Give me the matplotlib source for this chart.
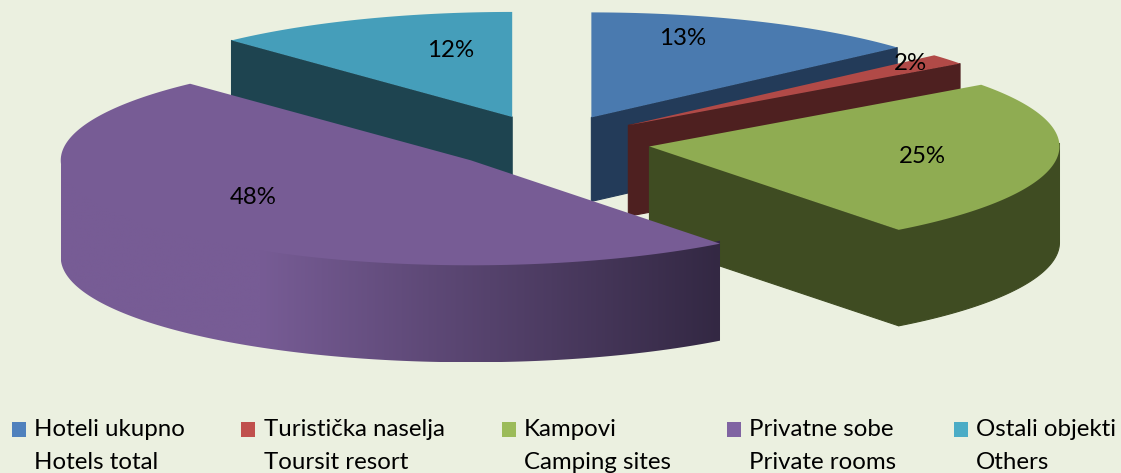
import numpy as np
import matplotlib
matplotlib.use("Agg")
import matplotlib.pyplot as plt
from matplotlib.colors import to_rgb
from matplotlib.patches import Rectangle, Polygon

# Data
shares = [13.4, 1.6, 24.6, 48.4, 12.0]
names_local = ["Hoteli ukupno", "Turistička naselja", "Kampovi", "Privatne sobe", "Ostali objekti"]
names_english = ["Hotels total", "Toursit resort", "Camping sites", "Private rooms", "Others"]

# Style
top_colors = ["#4A7AAF", "#B14A47", "#8FAC52", "#775C95", "#459EBA"]
side_colors = ["#233B59", "#4E2020", "#3F4C22", "#775C95", "#1E4450"]
legend_colors = ["#4F81BD", "#C0504D", "#9BBB59", "#8064A2", "#4BACC6"]
depths = [84, 91, 96, 97, 84]
apex_shift = [0, 0, 0, -3.5, -1.5]
label_pos = [(683, 38.5), (910, 63.5), (922, 156.5), (253, 197.5), (451, 50.5)]
legend_sq_x = [12, 241, 502, 727, 954]
legend_tx_x = [34, 264, 524, 749, 976]
BG = "#EBF0E0"
CX, CY, A, B, EX, EY = 550.5, 142.5, 410, 105, 100, 27.5
FONT = 17.3

plt.rcParams["font.family"] = ["Lato", "DejaVu Sans"]
fig = plt.figure(figsize=(11.21, 4.73), dpi=100, facecolor=BG)
ax = fig.add_axes([0, 0, 1, 1])
ax.set_xlim(0, 1121)
ax.set_ylim(473, 0)
ax.axis("off")

total = sum(shares)
edges = np.concatenate([[0], np.cumsum(shares)]) / total * 2 * np.pi
order = {4: 1, 0: 2, 1: 3, 2: 4, 3: 5}
# which radial edge shows its wall towards the viewer
wall_edge = {0: 1, 1: 1, 2: 1, 4: 0}


def rim(apex, t):
    return apex[0] + A * np.sin(t), apex[1] - B * np.cos(t)


for i in range(len(shares)):
    t0, t1 = edges[i], edges[i + 1]
    mid = (t0 + t1) / 2
    apex = (CX + EX * np.sin(mid) + apex_shift[i], CY - EY * np.cos(mid))
    d = depths[i]
    z = order[i]
    if i in wall_edge:
        x, y = rim(apex, edges[i + wall_edge[i]])
        ax.fill([apex[0], x, x, apex[0]], [apex[1], y, y + d, apex[1] + d],
                color=side_colors[i], lw=0.8, zorder=z)
    lo, hi = max(t0, np.pi / 2), min(t1, 3 * np.pi / 2)
    if hi > lo:
        ts = np.linspace(lo, hi, 200)
        xs, ys = rim(apex, ts)
        px = np.r_[xs, xs[::-1]]
        py = np.r_[ys - 3, ys[::-1] + d]
        if i == 3:
            poly = Polygon(np.c_[px, py], closed=True, fc="none", ec="none", zorder=z)
            ax.add_patch(poly)
            cols = np.linspace(px.min(), px.max(), 500)
            f = np.clip((cols - 260) / (719 - 260), 0, 1)[None, :, None]
            c0, c1 = np.array(to_rgb("#775C95")), np.array(to_rgb("#332843"))
            grad = c0[None, None, :] + (c1 - c0)[None, None, :] * f
            im = ax.imshow(grad, extent=(px.min(), px.max(), py.max(), py.min()),
                           aspect="auto", zorder=z, interpolation="bilinear")
            im.set_clip_path(poly)
        else:
            ax.fill(px, py, color=side_colors[i], lw=0.8, zorder=z)
    ts = np.linspace(t0, t1, 200)
    xs, ys = rim(apex, ts)
    ax.fill(np.r_[apex[0], xs], np.r_[apex[1], ys], color=top_colors[i], lw=0, zorder=z + 0.5)

ax.set_xlim(0, 1121)
ax.set_ylim(473, 0)

for v, (x, y) in zip(shares, label_pos):
    ax.text(x, y, f"{round(v)}%", ha="center", va="center", fontsize=FONT, color="black", zorder=10)

for i in range(len(shares)):
    ax.add_patch(Rectangle((legend_sq_x[i], 422), 14, 15, color=legend_colors[i], lw=0))
    ax.text(legend_tx_x[i], 429, names_local[i], ha="left", va="center", fontsize=FONT, color="black")
    ax.text(legend_tx_x[i], 462, names_english[i], ha="left", va="center", fontsize=FONT, color="black")

fig.savefig("out.png", dpi=100, facecolor=BG)
